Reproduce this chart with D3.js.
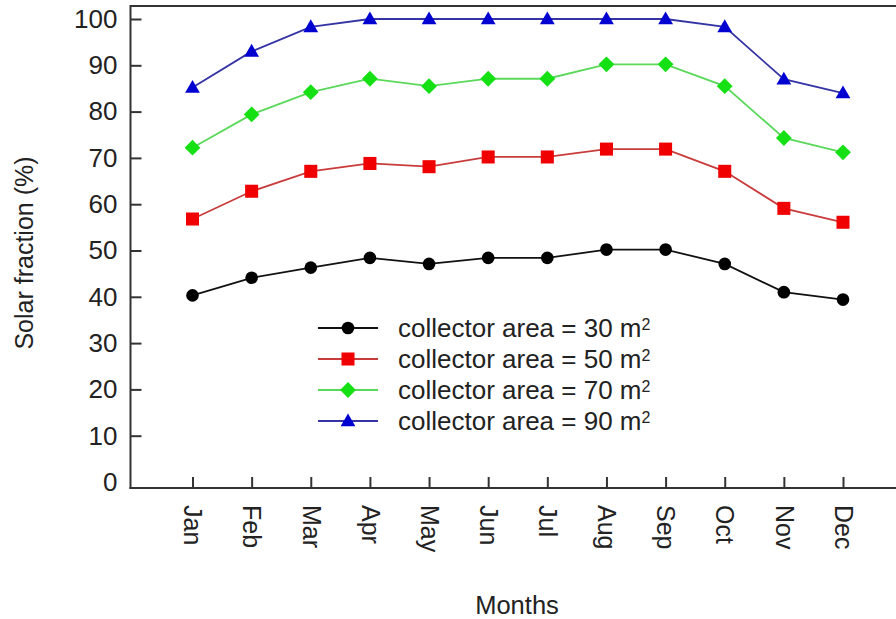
<!DOCTYPE html>
<html>
<head>
<meta charset="utf-8">
<script src="https://cdn.jsdelivr.net/npm/d3@7"></script>
<style>
  html, body { margin: 0; padding: 0; background: #fff; }
  svg { display: block; font-family: "Liberation Sans", Arial, sans-serif; }
</style>
</head>
<body>
<svg id="chart" width="896" height="619"></svg>
<script>
// Monthly solar fraction (%) for four collector areas
const months = ["Jan", "Feb", "Mar", "Apr", "May", "Jun", "Jul", "Aug", "Sep", "Oct", "Nov", "Dec"];
const area30 = [40.3, 44.1, 46.3, 48.4, 47.1, 48.4, 48.4, 50.2, 50.2, 47.1, 41.0, 39.4];
const area50 = [56.8, 62.8, 67.1, 68.8, 68.1, 70.2, 70.2, 71.9, 71.9, 67.1, 59.1, 56.1];
const area70 = [72.2, 79.4, 84.2, 87.1, 85.5, 87.1, 87.1, 90.2, 90.2, 85.5, 74.3, 71.2];
const area90 = [85.2, 93.0, 98.3, 100, 100, 100, 100, 100, 100, 98.3, 87.0, 84.0];
const seriesLabels = ["collector area = 30 m", "collector area = 50 m", "collector area = 70 m", "collector area = 90 m"];
const yTicks = [0, 10, 20, 30, 40, 50, 60, 70, 80, 90, 100];

const series = [
  { label: seriesLabels[0], values: area30, line: "#111111", fill: "#000000", shape: "circle" },
  { label: seriesLabels[1], values: area50, line: "#c83c3c", fill: "#f00000", shape: "square" },
  { label: seriesLabels[2], values: area70, line: "#5ad85a", fill: "#14e014", shape: "diamond" },
  { label: seriesLabels[3], values: area90, line: "#3434a4", fill: "#0000d0", shape: "triangle" }
];

const svg = d3.select("#chart");
const W = 896;
const axisX = 130.5, axisBottom = 488, frameTop = 6;

const x = d3.scalePoint().domain(months).range([192.5, 843]);
const y = d3.scaleLinear().domain([0, 100]).range([482, 19]);

const textColor = "#222";
const axisColor = "#333";

// frame: top border, left axis and bottom axis lines
svg.append("line").attr("x1", axisX).attr("x2", W).attr("y1", frameTop).attr("y2", frameTop)
  .attr("stroke", axisColor).attr("stroke-width", 2);
svg.append("line").attr("x1", axisX).attr("x2", axisX).attr("y1", frameTop - 1).attr("y2", axisBottom + 1)
  .attr("stroke", axisColor).attr("stroke-width", 2);
svg.append("line").attr("x1", axisX - 1).attr("x2", W).attr("y1", axisBottom).attr("y2", axisBottom)
  .attr("stroke", axisColor).attr("stroke-width", 2);

// y axis: inward ticks, labels to the left
const yAxis = svg.append("g")
  .attr("transform", `translate(${axisX},0)`)
  .call(d3.axisLeft(y).tickValues(yTicks).tickSize(-11).tickPadding(13).tickFormat(d3.format("d")));
yAxis.select(".domain").remove();
yAxis.selectAll(".tick line").attr("stroke", axisColor).attr("stroke-width", 2)
  .filter(d => d === 0).remove();
yAxis.selectAll(".tick text")
  .attr("fill", textColor).style("font-size", "26px").attr("font-family", null)
  .attr("x", -13);

// x axis: inward ticks, rotated month labels
const xAxis = svg.append("g")
  .attr("transform", `translate(0,${axisBottom})`)
  .call(d3.axisBottom(x).tickSize(-11).tickPadding(0));
xAxis.select(".domain").remove();
xAxis.selectAll(".tick line").attr("stroke", axisColor).attr("stroke-width", 2);
xAxis.selectAll(".tick text")
  .attr("fill", textColor).style("font-size", "25px").attr("font-family", null)
  .attr("transform", "translate(0,17) rotate(90)")
  .attr("x", 0).attr("y", 0).attr("dy", "0.35em")
  .attr("text-anchor", "start");

// axis titles
svg.append("text")
  .attr("x", 517).attr("y", 614)
  .attr("text-anchor", "middle")
  .attr("fill", textColor).style("font-size", "25.5px")
  .text("Months");
svg.append("text")
  .attr("transform", "translate(33,253) rotate(-90)")
  .attr("text-anchor", "middle")
  .attr("fill", textColor).style("font-size", "25px")
  .text("Solar fraction (%)");

// marker generator per shape
function marker(sel, shape, fill) {
  if (shape === "circle") {
    sel.append("path").attr("d", d3.symbol(d3.symbolCircle, 125)()).attr("fill", fill);
  } else if (shape === "square") {
    sel.append("path").attr("d", d3.symbol(d3.symbolSquare, 170)()).attr("fill", fill);
  } else if (shape === "diamond") {
    sel.append("path").attr("d", d3.symbol(d3.symbolSquare, 125)()).attr("transform", "rotate(45)").attr("fill", fill);
  } else {
    sel.append("path").attr("d", d3.symbol(d3.symbolTriangle, 95)()).attr("transform", "translate(0,1)").attr("fill", fill);
  }
}

const line = d3.line().x((d, i) => x(months[i])).y(d => y(d));

series.forEach(s => {
  const g = svg.append("g");
  g.append("path").datum(s.values)
    .attr("d", line)
    .attr("fill", "none")
    .attr("stroke", s.line)
    .attr("stroke-width", 1.8);
  s.values.forEach((v, i) => {
    const m = g.append("g").attr("transform", `translate(${x(months[i])},${y(v)})`);
    marker(m, s.shape, s.fill);
  });
});

// legend
const legend = svg.append("g").attr("transform", "translate(318,328)");
series.forEach((s, i) => {
  const row = legend.append("g").attr("transform", `translate(0,${i * 31})`);
  row.append("line").attr("x1", 0).attr("x2", 60).attr("y1", 0).attr("y2", 0)
    .attr("stroke", s.line).attr("stroke-width", 1.8);
  const m = row.append("g").attr("transform", "translate(30,0)");
  marker(m, s.shape, s.fill);
  const t = row.append("text")
    .attr("x", 80).attr("y", 0).attr("dy", "0.36em")
    .attr("fill", textColor).style("font-size", "26px")
    .text(s.label);
  t.append("tspan").attr("dy", "-0.45em").style("font-size", "16px").text("2");
});
</script>
</body>
</html>
